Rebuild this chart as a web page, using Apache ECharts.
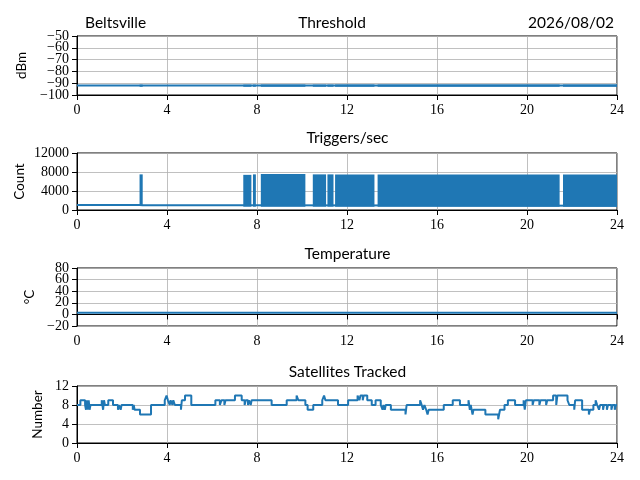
<!DOCTYPE html>
<html><head><meta charset="utf-8">
<script src="https://cdn.jsdelivr.net/npm/echarts@6/dist/echarts.min.js"></script>
<style>html,body{margin:0;padding:0;background:#fff}#c{width:640px;height:480px}</style>
</head><body><div id="c"></div>
<script>
// ---- data ----
const station = 'Beltsville';
const dateLabel = '2026/08/02';
const panelTitles = ['Threshold', 'Triggers/sec', 'Temperature', 'Satellites Tracked'];
const yNames = ['dBm', 'Count', '°C', 'Number'];
const yMins = [-100, 0, -20, 0];
const yMaxs = [-50, 12000, 80, 12];
const yIntervals = [10, 4000, 20, 4];
const xMin = 0, xMax = 24, xInterval = 4;

// periods of high trigger activity (hours)
const activeStart = [2.78, 7.39, 7.82, 8.17, 10.48, 11.13, 11.47, 13.36, 21.60];
const activeEnd   = [2.92, 7.75, 7.95, 10.15, 11.07, 11.40, 13.22, 21.45, 24.00];
const trigHigh    = [7500, 7400, 7500, 7600, 7500, 7500, 7500, 7450, 7500];
const trigLow     = [1000, 700, 700, 700, 700, 700, 700, 700, 700];
const trigQuietX  = [0, 2.78, 2.92, 7.39, 24];
const trigQuietY  = [1050, 1050, 1000, 1000, 900];

// threshold (dBm)
const thrX = [0, 24];
const thrY = [-92, -92];
const thrBandHigh = -91.2;
const thrBandLow = -93.0;

// temperature (°C)
const tempX = [0, 24];
const tempY = [3, 3];

// satellites tracked (value holds from time until next time)
const satTimes = [0,0.15,0.36,0.4,0.44,0.48,0.52,0.56,0.6,1.1,1.16,1.2,1.24,1.39,1.6,1.82,1.86,1.94,1.98,2.48,2.52,2.56,2.8,3.29,3.9,3.98,4.04,4.12,4.16,4.24,4.28,4.35,4.62,4.66,4.8,5.08,
 6.15,6.35,6.42,6.55,6.6,7.02,7.32,7.45,7.5,7.6,7.64,7.72,7.76,8.65,9.32,9.76,9.84,10.15,10.25,10.5,10.9,10.98,11.04,11.6,12.05,
 12.47,12.55,12.6,12.7,12.74,12.9,13.1,13.27,13.5,13.58,13.62,13.68,13.72,13.95,14.6,14.65,15.25,15.32,15.38,15.44,15.52,15.58,15.63,16.3,16.7,17.02,17.4,17.46,17.5,17.58,17.62,
 18.15,18.72,18.76,18.8,19.0,19.15,19.47,19.85,19.9,19.95,20.25,20.3,20.55,20.6,20.85,20.9,21.16,21.3,21.35,21.8,21.88,22.1,22.14,22.45,22.75,22.8,22.95,23.05,23.12,23.2,23.25,23.38,23.42,23.55,23.6,23.75,23.8,23.9,23.95,24];
const satValues = [8,9,8,7,9,7,9,7,8,9,7,9,8,9,8,7,8,7,8,7,8,7,6,8,9,10,9,8,9,8,9,8,7,9,10,8,
 9,8,9,8,9,10,9,8,9,8,9,8,9,8,9,10,9,8,7,8,9,10,9,8,9,
 10,9,10,9,10,9,8,9,8,7,8,7,8,7,6,8,9,8,7,8,7,6,7,8,9,8,9,7,8,6,7,
 6,5,6,7,8,9,8,9,7,9,8,9,8,9,8,9,10,8,10,9,8,7,9,7,6,7,8,9,8,7,8,7,8,7,8,7,8,7,8,8];

// ---- layout ----
const C = '#1f77b4';
const gridTops = [36, 153, 268, 386];
const gridHeights = [59, 57, 58, 57];
const nameGaps = [48, 50, 34, 32];
const titleY = [22.5, 138, 254, 372];
const titleX = [332, 347.5, 347.5, 347.5];

const tickFont = { fontFamily: 'Liberation Serif', fontSize: 14, color: '#000' };
const zip = (a, b) => a.map((v, i) => [v, b[i]]);
const minus = v => String(v).replace('-', '\u2212');

const grids = [], xAxes = [], yAxes = [], yAxes2 = [];
for (let i = 0; i < 4; i++) {
  const lo = yMins[i], step = yIntervals[i];
  const parity = p => (v => (Math.round((v - lo) / step) % 2 === p ? minus(v) : ''));
  grids.push({ left: 77, right: 23, top: gridTops[i], height: gridHeights[i], show: true,
    borderColor: '#000', borderWidth: 1, backgroundColor: 'transparent', containLabel: false });
  xAxes.push({ type: 'value', gridIndex: i, min: xMin, max: xMax, interval: xInterval,
    axisLine: { show: true, lineStyle: { color: '#000', width: 1 } },
    axisTick: { show: true, inside: false, length: 5, lineStyle: { color: '#000', width: 1 } },
    axisLabel: Object.assign({ margin: 8, showMinLabel: true, showMaxLabel: true }, tickFont),
    splitLine: { show: true, lineStyle: { color: '#b0b0b0', width: 0.8 } } });
  yAxes.push({ type: 'value', gridIndex: i, position: 'left', offset: 0,
    min: yMins[i], max: yMaxs[i], interval: yIntervals[i],
    name: yNames[i], nameLocation: 'middle', nameGap: nameGaps[i], nameRotate: 90,
    nameTextStyle: { fontFamily: 'Lato', fontSize: 13.5, color: '#000' },
    axisLine: { show: true, lineStyle: { color: '#000', width: 1 } },
    axisTick: { show: true, inside: false, length: 5, lineStyle: { color: '#000', width: 1 } },
    axisLabel: Object.assign({ margin: 8, formatter: parity(0), showMinLabel: true, showMaxLabel: true }, tickFont),
    splitLine: { show: true, lineStyle: { color: '#b0b0b0', width: 0.8 } } });
  yAxes2.push({ type: 'value', gridIndex: i, position: 'left', offset: 0,
    min: yMins[i], max: yMaxs[i], interval: yIntervals[i],
    axisLine: { show: false }, axisTick: { show: false }, splitLine: { show: false },
    axisLabel: Object.assign({ margin: 8, formatter: parity(1), showMinLabel: true, showMaxLabel: true }, tickFont) });
}

function rectRender(params, api) {
  const a = api.coord([api.value(0), api.value(3)]);
  const b = api.coord([api.value(1), api.value(2)]);
  return { type: 'rect', shape: { x: a[0], y: a[1], width: Math.max(b[0] - a[0], 1), height: Math.max(b[1] - a[1], 1) },
    style: { fill: C } };
}

const trigRects = activeStart.map((s, i) => [s, activeEnd[i], trigLow[i], trigHigh[i]]);
const thrRects = activeStart.map((s, i) => [s, activeEnd[i], thrBandLow, thrBandHigh]);

const series = [
  { type: 'line', xAxisIndex: 0, yAxisIndex: 0, data: zip(thrX, thrY), showSymbol: false,
    lineStyle: { color: C, width: 2 }, z: 3 },
  { type: 'custom', xAxisIndex: 0, yAxisIndex: 0, data: thrRects, encode: { x: [0, 1], y: [2, 3] },
    renderItem: rectRender, z: 3 },
  { type: 'line', xAxisIndex: 1, yAxisIndex: 1, data: zip(trigQuietX, trigQuietY), showSymbol: false,
    lineStyle: { color: C, width: 2 }, z: 3 },
  { type: 'custom', xAxisIndex: 1, yAxisIndex: 1, data: trigRects, encode: { x: [0, 1], y: [2, 3] },
    renderItem: rectRender, z: 3 },
  { type: 'line', xAxisIndex: 2, yAxisIndex: 2, data: zip(tempX, tempY), showSymbol: false,
    lineStyle: { color: C, width: 2 }, z: 3 },
  { type: 'line', xAxisIndex: 3, yAxisIndex: 3, data: zip(satTimes, satValues), showSymbol: false,
    step: 'end', lineStyle: { color: C, width: 2 }, z: 3 }
];

const texts = [
  { type: 'text', x: 85, y: titleY[0], style: { text: station, font: '15.5px Lato', fill: '#000', textAlign: 'left', textVerticalAlign: 'middle', verticalAlign: 'middle' } },
  { type: 'text', x: 614, y: titleY[0], style: { text: dateLabel, font: '15.5px Lato', fill: '#000', textAlign: 'right', textVerticalAlign: 'middle', verticalAlign: 'middle' } }
];
panelTitles.forEach((t, i) => texts.push({ type: 'text', x: titleX[i], y: titleY[i],
  style: { text: t, font: '15.5px Lato', fill: '#000', textAlign: 'center', textVerticalAlign: 'middle', verticalAlign: 'middle' } }));

const chart = echarts.init(document.getElementById('c'), null, { renderer: 'canvas' });
chart.setOption({ animation: false, backgroundColor: '#fff', grid: grids, xAxis: xAxes,
  yAxis: yAxes.concat(yAxes2), series: series, graphic: texts });
</script></body></html>
